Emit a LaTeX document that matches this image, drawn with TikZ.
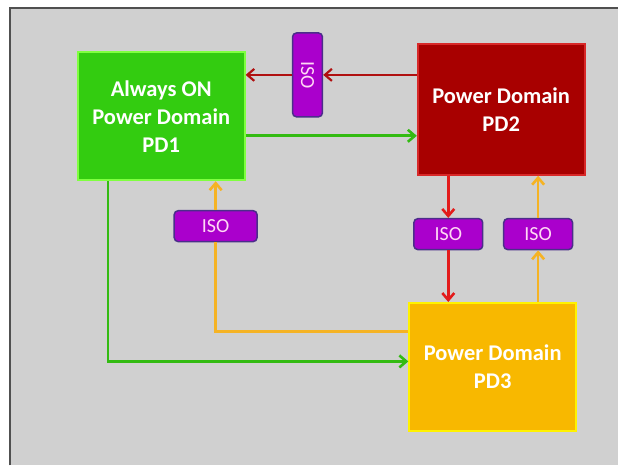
\documentclass[tikz,border=0pt]{standalone}
\usepackage{fontspec}
\setmainfont{Carlito}
\usetikzlibrary{arrows.meta}

\definecolor{panelgray}{HTML}{D0D0D0}
\definecolor{paneledge}{HTML}{505050}
\definecolor{pdgreen}{HTML}{33CC10}
\definecolor{pdgreenedge}{HTML}{80FF40}
\definecolor{pdred}{HTML}{A80000}
\definecolor{pdrededge}{HTML}{D82828}
\definecolor{pdyellow}{HTML}{F8B800}
\definecolor{pdyellowedge}{HTML}{FFF200}
\definecolor{isofill}{HTML}{AA00CC}
\definecolor{isoedge}{HTML}{4B2E8A}
\definecolor{isotext}{HTML}{FFD8F4}
\definecolor{wiregreen}{HTML}{33BB12}
\definecolor{wiredred}{HTML}{B01010}
\definecolor{wirered}{HTML}{E31B1B}
\definecolor{wireorange}{HTML}{F5B324}

\begin{document}
\begin{tikzpicture}[x=1pt, y=-1pt, >={Straight Barb[length=7pt,width=12pt]},
  pdbox/.style={draw, line width=2pt, minimum width=167pt, minimum height=128pt,
    align=center, text=white, font=\fontsize{22.5}{28}\selectfont\bfseries},
  iso/.style={draw=isoedge, fill=isofill, line width=1.5pt, rounded corners=4pt,
    minimum height=31pt, inner sep=0pt, text=isotext, font=\fontsize{20}{22}\selectfont},
  wire/.style={line width=2.6pt, ->}]

  % page and panel
  \fill[white] (0,0) rectangle (619,466);
  \fill[panelgray] (10,8) rectangle (619,466);
  \draw[paneledge, line width=2pt] (10,466) -- (10,8) -- (619,8);

  % power domains
  \node[pdbox, fill=pdgreen, draw=pdgreenedge] (pd1) at (161.5,116.5) {Always ON\\Power Domain\\PD1};
  \node[pdbox, fill=pdred, draw=pdrededge, minimum height=131pt] (pd2) at (502,109.5) {Power Domain\\PD2};
  \node[pdbox, fill=pdyellow, draw=pdyellowedge] (pd3) at (493.5,367.5) {Power Domain\\PD3};

  % isolation cells (top one turned, its north faces right)
  \node[iso, rotate=-90, minimum width=84pt, minimum height=30pt] (isoTop) at (308,75) {ISO};
  \node[iso, minimum width=83pt] (isoLeft) at (216,226.5) {ISO};
  \node[iso, minimum width=69pt] (isoMid) at (449,234.5) {ISO};
  \node[iso, minimum width=69pt] (isoRight) at (539,234.5) {ISO};

  % PD2 -> PD1 through ISO
  \draw[wire, wiredred, line width=2.2pt] (pd2.west |- isoTop) -- (isoTop.north);
  \draw[wire, wiredred, line width=2.2pt] (isoTop.south) -- (pd1.east |- isoTop);

  % PD1 -> PD2, PD1 -> PD3
  \draw[wire, wiregreen] (pd1.east |- 0,136) -- (pd2.west |- 0,136);
  \draw[wire, wiregreen] (pd1.south -| 108,0) -- (108,362) -- (pd3.west |- 0,362);

  % PD3 -> PD1 through ISO
  \draw[wireorange, line width=2.6pt] (pd3.west |- 0,332) -| (isoLeft.south);
  \draw[wire, wireorange] (isoLeft.north) -- (pd1.south -| isoLeft);

  % PD2 -> PD3 and PD3 -> PD2
  \draw[wire, wirered] (pd2.south -| isoMid) -- (isoMid.north);
  \draw[wire, wirered] (isoMid.south) -- (pd3.north -| isoMid);
  \draw[wire, wireorange] (pd3.north -| isoRight) -- (isoRight.south);
  \draw[wire, wireorange] (isoRight.north) -- (pd2.south -| isoRight);
\end{tikzpicture}
\end{document}
